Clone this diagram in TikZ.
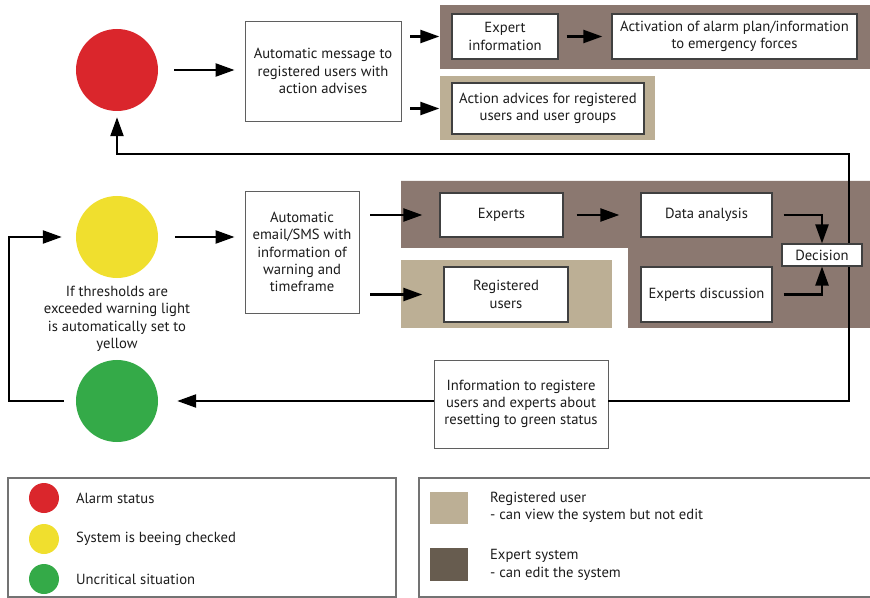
\documentclass[tikz,border=0pt]{standalone}
\usepackage{fontspec}
\setmainfont{PT Sans}
\usepackage{xcolor}
\usetikzlibrary{arrows.meta,positioning,calc}

\definecolor{alarmred}{RGB}{218,38,44}
\definecolor{warnyellow}{RGB}{240,223,46}
\definecolor{okgreen}{RGB}{52,170,72}
\definecolor{expertbg}{RGB}{139,120,112}
\definecolor{userbg}{RGB}{188,175,149}
\definecolor{expertkey}{RGB}{103,92,79}
\definecolor{frame}{RGB}{95,95,95}
\definecolor{txt}{RGB}{28,28,28}

\begin{document}
\begin{tikzpicture}[x=0.03cm,y=-0.03cm,
    font=\fontsize{12.5}{14.8}\selectfont, text=txt,
    light/.style={circle,minimum size=2.46cm,inner sep=0pt},
    box/.style={draw=frame,line width=0.8pt,fill=white,align=center,inner sep=2pt},
    inbox/.style={box,draw=black!75,line width=1.1pt},
    arr/.style={line width=2pt,-{Triangle[length=5.7mm,width=3.9mm]}},
    keyframe/.style={draw=black!55,line width=1.1pt}]
  \useasboundingbox (0,0) rectangle (870,598);

  % panels behind the boxes
  \fill[expertbg] (440,5) rectangle (870,69);
  \fill[userbg] (440,76) rectangle (655,140);
  \fill[expertbg] (401,181) -- (870,181) -- (870,328) -- (628,328) -- (628,248) -- (401,248) -- cycle;
  \fill[userbg] (401,260) rectangle (612,328);

  % status lights
  \node[light,fill=alarmred] (red) at (117,70) {};
  \node[light,fill=warnyellow] (yellow) at (117,237) {};
  \node[light,fill=okgreen] (green) at (117,401) {};
  \node[align=center] (threshold) at (117,319) {If thresholds are\\exceeded warning light\\is automatically set to\\yellow};

  % alarm row
  \node[box,minimum width=4.68cm,minimum height=3cm] (msg) at (323,71) {Automatic message to\\registered users with\\action advises};
  \node[inbox,minimum width=3.18cm,minimum height=1.35cm] (expinfo) at (505,36.5) {Expert\\information};
  \node[inbox,minimum width=7.35cm,minimum height=1.35cm] (alarmplan) at (734.5,36.5) {Activation of alarm plan/information\\to emergency forces};
  \node[inbox,minimum width=5.76cm,minimum height=1.53cm] (advices) at (548,108.5) {Action advices for registered\\users and user groups};

  % warning row
  \node[box,minimum width=3.42cm,minimum height=3.66cm] (email) at (302,252) {Automatic\\email/SMS with\\information of\\warning and\\timeframe};
  \node[inbox,minimum width=3.69cm,minimum height=1.32cm] (experts) at (501.5,215) {Experts};
  \node[inbox,minimum width=3.93cm,minimum height=1.32cm] (analysis) at (706.5,215) {Data analysis};
  \node[inbox,minimum width=3.72cm,minimum height=1.65cm] (users) at (506,294.5) {Registered\\users};
  \node[inbox,minimum width=3.93cm,minimum height=1.65cm] (discussion) at (706.5,294.5) {Experts discussion};
  \node[box,minimum width=5.22cm,minimum height=2.64cm] (reset) at (521,404) {Information to registere\\users and experts about\\resetting to green status};

  % feedback loop back to the red light
  \coordinate (backup) at (849,154);
  \draw[arr,shorten >=0.18cm] (reset.east |- green) -| (backup) -| (red.south);
  \node[inbox,line width=0.9pt,minimum width=2.4cm,minimum height=0.66cm] (decision) at (822,255) {Decision};

  % arrows
  \draw[arr,shorten <=0.48cm,shorten >=0.3cm] (red.east) -- (red.east -| msg.west);
  \draw[arr,shorten <=0.27cm,shorten >=0.36cm] (msg.east |- expinfo) -- (expinfo.west);
  \draw[arr,shorten <=0.27cm,shorten >=0.36cm] (msg.east |- advices) -- (advices.west);
  \draw[arr,shorten <=0.24cm,shorten >=0.27cm] (expinfo) -- (alarmplan);
  \draw[arr,shorten <=0.5cm,shorten >=0.3cm] (yellow.east) -- (yellow.east -| email.west);
  \draw[arr,shorten <=0.33cm,shorten >=0.51cm] (email.east |- experts) -- (experts.west);
  \draw[arr,shorten <=0.33cm,shorten >=0.63cm] (email.east |- users) -- (users.west);
  \draw[arr,shorten <=0.39cm,shorten >=0.63cm] (experts) -- (analysis);
  \draw[arr,shorten <=0.33cm] (analysis.east) -| (decision.north);
  \draw[arr,shorten <=0.33cm] (discussion.east) -| (decision.south);
  \draw[arr,shorten >=0.57cm] (reset.west |- green) -- (green.east);
  \coordinate (loopleft) at (9,320);
  \draw[arr,shorten <=0.36cm,shorten >=0.42cm] (green.west) -| (loopleft) |- (yellow.west);

  % legend: status lights
  \draw[keyframe] (8,478) rectangle (396,597);
  \foreach \col/\ypos/\name in {alarmred/498/Alarm status,warnyellow/539/System is beeing checked,okgreen/579/Uncritical situation} {
    \node[circle,fill=\col,minimum size=0.9cm,inner sep=0pt] (key-\col) at (44,\ypos) {};
    \node[anchor=west] at (72,\ypos) {\name};
  }

  % legend: access rights
  \draw[keyframe] (419,478) rectangle (875,597);
  \node[fill=userbg,minimum width=1.14cm,minimum height=0.96cm,inner sep=0pt] (key-user) at (449,508) {};
  \node[anchor=west,align=left] at (486,507) {Registered user\\- can view the system but not edit};
  \node[fill=expertkey,minimum width=1.14cm,minimum height=0.99cm,inner sep=0pt] (key-expert) at (449,564.5) {};
  \node[anchor=west,align=left] at (486,565) {Expert system\\- can edit the system};
\end{tikzpicture}
\end{document}
